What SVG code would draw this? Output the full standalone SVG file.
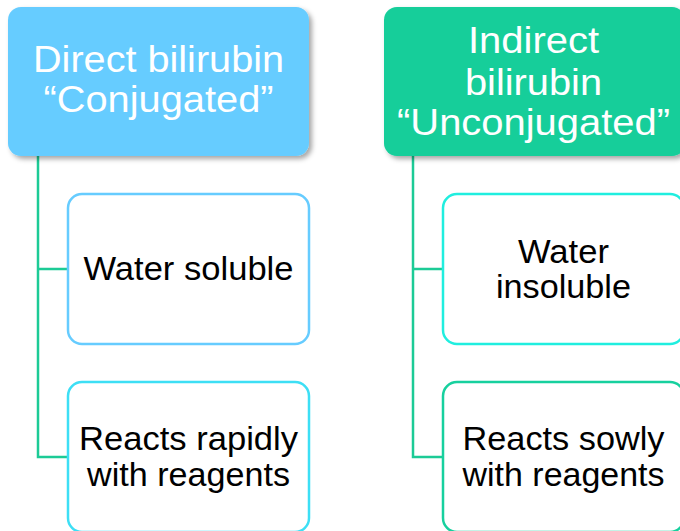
<svg xmlns="http://www.w3.org/2000/svg" width="680" height="531" viewBox="0 0 680 531">
<style>
.hdr{font-family:"Liberation Sans",Arial,sans-serif;font-size:36px;fill:#ffffff;text-anchor:middle}
.txt{font-family:"Liberation Sans",Arial,sans-serif;font-size:32.5px;fill:#000000;text-anchor:middle}
.child{fill:#ffffff;stroke-width:2.5}
.conn{fill:none;stroke:#1ccb96;stroke-width:2.5}
</style>
<defs>
<filter id="sh" x="-10%" y="-10%" width="130%" height="130%">
<feDropShadow dx="3" dy="3" stdDeviation="2.5" flood-color="#000000" flood-opacity="0.35"/>
</filter>
</defs>
<rect width="680" height="531" fill="#ffffff"/>
<g id="connectors">
<path class="conn" d="M38,156 V457 H68 M38,269 H68"/>
<path class="conn" d="M413,156 V457 H443 M413,269 H443"/>
</g>
<g id="direct">
<rect x="8" y="7" width="301" height="149" rx="13" fill="#66ccff" filter="url(#sh)"/>
<text class="hdr" x="158.5" y="72" textLength="251" lengthAdjust="spacingAndGlyphs">Direct bilirubin</text>
<text class="hdr" x="158.5" y="112" textLength="230" lengthAdjust="spacingAndGlyphs">“Conjugated”</text>
</g>
<g id="indirect">
<rect x="384" y="7" width="301" height="149" rx="13" fill="#13ce9a" filter="url(#sh)"/>
<text class="hdr" x="533.5" y="53" textLength="131" lengthAdjust="spacingAndGlyphs">Indirect</text>
<text class="hdr" x="533.5" y="95" textLength="137" lengthAdjust="spacingAndGlyphs">bilirubin</text>
<text class="hdr" x="533.5" y="135" textLength="273" lengthAdjust="spacingAndGlyphs">“Unconjugated”</text>
</g>
<g id="water-soluble">
<rect class="child" x="68" y="194" width="241" height="150" rx="14" stroke="#66ccff"/>
<text class="txt" x="188.5" y="280" textLength="210" lengthAdjust="spacingAndGlyphs">Water soluble</text>
</g>
<g id="reacts-rapidly">
<rect class="child" x="68" y="382" width="241" height="150" rx="14" stroke="#3ddff5"/>
<text class="txt" x="188.5" y="450" textLength="219" lengthAdjust="spacingAndGlyphs">Reacts rapidly</text>
<text class="txt" x="188.5" y="486" textLength="203" lengthAdjust="spacingAndGlyphs">with reagents</text>
</g>
<g id="water-insoluble">
<rect class="child" x="443" y="194" width="241" height="150" rx="14" stroke="#20eedf"/>
<text class="txt" x="563.5" y="263" textLength="91" lengthAdjust="spacingAndGlyphs">Water</text>
<text class="txt" x="563.5" y="298" textLength="135" lengthAdjust="spacingAndGlyphs">insoluble</text>
</g>
<g id="reacts-slowly">
<rect class="child" x="443" y="382" width="241" height="150" rx="14" stroke="#17d09e"/>
<text class="txt" x="563.5" y="450" textLength="202" lengthAdjust="spacingAndGlyphs">Reacts sowly</text>
<text class="txt" x="563.5" y="486" textLength="202" lengthAdjust="spacingAndGlyphs">with reagents</text>
</g>
</svg>
